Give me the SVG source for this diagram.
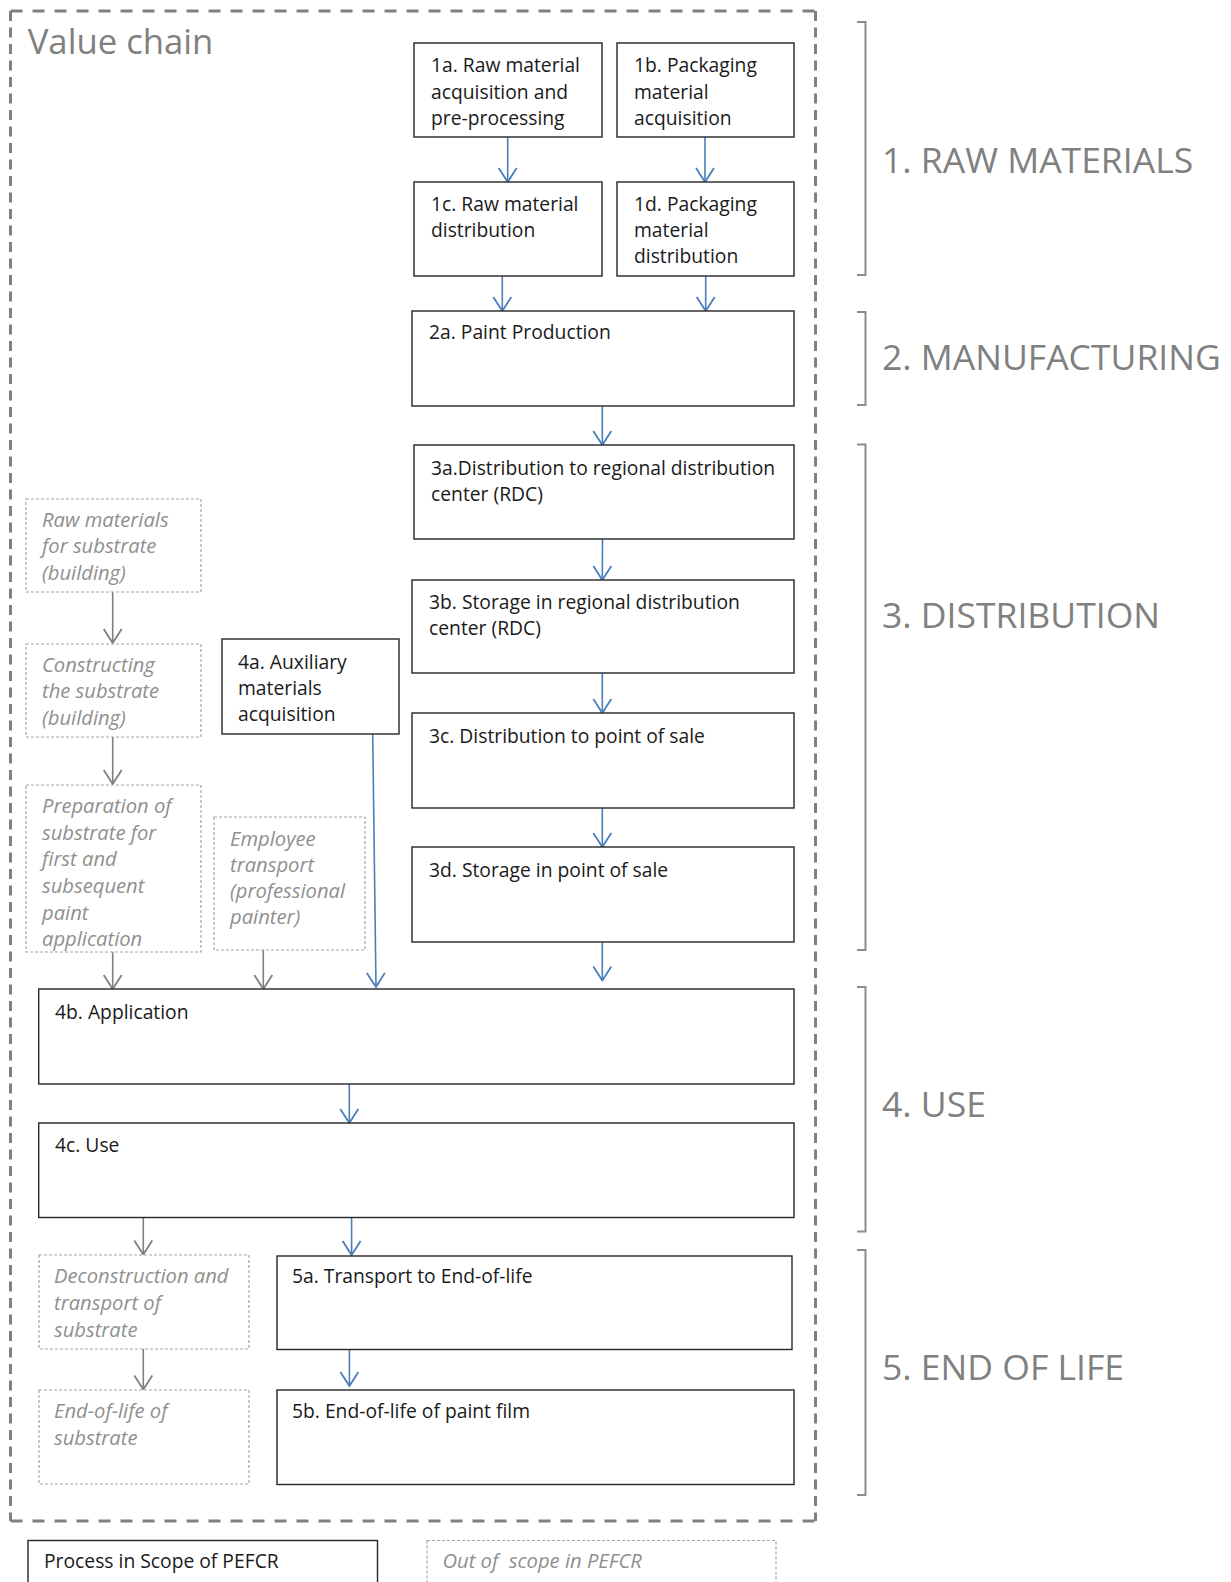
<svg xmlns="http://www.w3.org/2000/svg" width="1231" height="1582" viewBox="0 0 1231 1582">
<style>
text{font-family:"Open Sans","Noto Sans","Liberation Sans",sans-serif;}
.n{fill:#fff;stroke:#262626;stroke-width:1.4;}
.o{fill:#fff;stroke:#a6a6a6;stroke-width:1.2;stroke-dasharray:3 2;}
.t{font-size:19.3px;fill:#1a1a1a;}
.it{font-size:20.2px;fill:#8f8f8f;font-style:italic;}
.ph{font-size:35.5px;fill:#808080;}
.br{fill:none;stroke:#8c8c8c;stroke-width:2;}
.b{stroke:#4a7ebb;stroke-width:1.6;fill:none;marker-end:url(#ab);}
.g{stroke:#7f7f7f;stroke-width:1.6;fill:none;marker-end:url(#ag);}
.bd{stroke:#808080;stroke-width:3;fill:none;}
</style>
<defs>
<marker id="ab" markerUnits="userSpaceOnUse" markerWidth="22" markerHeight="22" viewBox="0 0 22 22" refX="17" refY="11" orient="auto"><path d="M3,2 L17,11 L3,20" fill="none" stroke="#4a7ebb" stroke-width="1.8" stroke-linejoin="round"/></marker>
<marker id="ag" markerUnits="userSpaceOnUse" markerWidth="22" markerHeight="22" viewBox="0 0 22 22" refX="17" refY="11" orient="auto"><path d="M3,2 L17,11 L3,20" fill="none" stroke="#7f7f7f" stroke-width="1.8" stroke-linejoin="round"/></marker>
</defs>
<rect width="1231" height="1582" fill="#fff"/>
<g id="border">
<line class="bd" x1="10.5" y1="11" x2="815.5" y2="11" stroke-dasharray="12 10"/>
<line class="bd" x1="10.5" y1="1521" x2="815.5" y2="1521" stroke-dasharray="12 10"/>
<line class="bd" x1="10.5" y1="11" x2="10.5" y2="1521" stroke-dasharray="10 6.5"/>
<line class="bd" x1="815.5" y1="11" x2="815.5" y2="1521" stroke-dasharray="10 6.5"/>
<text x="27.7" y="54.3" style="font-size:34.7px;fill:#808080;">Value chain</text>
</g>
<g id="phases">
<path class="br" d="M857,22 H865.5 V275 H857"/>
<text class="ph" x="882" y="173">1. RAW MATERIALS</text>
<path class="br" d="M857,312 H865.5 V405 H857"/>
<text class="ph" x="882" y="370">2. MANUFACTURING</text>
<path class="br" d="M857,444.5 H865.5 V950 H857"/>
<text class="ph" x="882" y="628">3. DISTRIBUTION</text>
<path class="br" d="M857,987 H865.5 V1231.5 H857"/>
<text class="ph" x="882" y="1117">4. USE</text>
<path class="br" d="M857,1250 H865.5 V1495 H857"/>
<text class="ph" x="882" y="1380">5. END OF LIFE</text>
</g>
<g id="connectors">
<line class="b" x1="507.7" y1="137" x2="507.7" y2="182"/>
<line class="b" x1="705" y1="137" x2="705" y2="182"/>
<line class="b" x1="502.3" y1="276" x2="502.3" y2="311"/>
<line class="b" x1="705.7" y1="276" x2="705.7" y2="311"/>
<line class="b" x1="602.3" y1="406" x2="602.3" y2="445"/>
<line class="b" x1="602.5" y1="539" x2="602.3" y2="580"/>
<line class="b" x1="602.3" y1="673" x2="602.3" y2="713"/>
<line class="b" x1="602.3" y1="808" x2="602.3" y2="847"/>
<line class="b" x1="602.3" y1="942" x2="602.3" y2="980.5"/>
<line class="b" x1="372.7" y1="734" x2="376" y2="987"/>
<line class="b" x1="349.3" y1="1084" x2="349.3" y2="1123"/>
<line class="b" x1="351.6" y1="1217.5" x2="351.6" y2="1255"/>
<line class="b" x1="349.4" y1="1349.5" x2="349.4" y2="1386"/>
<line class="g" x1="112.7" y1="592" x2="112.7" y2="643"/>
<line class="g" x1="112.7" y1="737" x2="112.7" y2="784"/>
<line class="g" x1="112.7" y1="952" x2="112.7" y2="989"/>
<line class="g" x1="263.3" y1="950" x2="263.3" y2="989"/>
<line class="g" x1="143.3" y1="1217.5" x2="143.3" y2="1254.5"/>
<line class="g" x1="143.3" y1="1349" x2="143.3" y2="1389.5"/>
</g>
<g id="n1a"><rect class="n" x="414" y="43" width="188" height="94"/><text class="t" x="431" y="72">1a. Raw material</text><text class="t" x="431" y="99">acquisition and</text><text class="t" x="431" y="125">pre-processing</text></g>
<g id="n1b"><rect class="n" x="617" y="43" width="177" height="94"/><text class="t" x="634" y="72">1b. Packaging</text><text class="t" x="634" y="99">material</text><text class="t" x="634" y="125">acquisition</text></g>
<g id="n1c"><rect class="n" x="414" y="182" width="188" height="94"/><text class="t" x="431" y="211">1c. Raw material</text><text class="t" x="431" y="237">distribution</text></g>
<g id="n1d"><rect class="n" x="617" y="182" width="177" height="94"/><text class="t" x="634" y="211">1d. Packaging</text><text class="t" x="634" y="237">material</text><text class="t" x="634" y="263">distribution</text></g>
<g id="n2a"><rect class="n" x="412" y="311" width="382" height="95"/><text class="t" x="429" y="339">2a. Paint Production</text></g>
<g id="n3a"><rect class="n" x="414" y="445" width="380" height="94"/><text class="t" x="431" y="475">3a.Distribution to regional distribution</text><text class="t" x="431" y="501">center (RDC)</text></g>
<g id="n3b"><rect class="n" x="412" y="580" width="382" height="93"/><text class="t" x="429" y="609">3b. Storage in regional distribution</text><text class="t" x="429" y="635">center (RDC)</text></g>
<g id="n3c"><rect class="n" x="412" y="713" width="382" height="95"/><text class="t" x="429" y="743">3c. Distribution to point of sale</text></g>
<g id="n3d"><rect class="n" x="412" y="847" width="382" height="95"/><text class="t" x="429" y="877">3d. Storage in point of sale</text></g>
<g id="n4a"><rect class="n" x="222" y="639" width="177" height="95"/><text class="t" x="238" y="669">4a. Auxiliary</text><text class="t" x="238" y="695">materials</text><text class="t" x="238" y="721">acquisition</text></g>
<g id="n4b"><rect class="n" x="38.7" y="989" width="755.3" height="95"/><text class="t" x="55" y="1019">4b. Application</text></g>
<g id="n4c"><rect class="n" x="38.7" y="1123" width="755.3" height="94.5"/><text class="t" x="55" y="1152">4c. Use</text></g>
<g id="n5a"><rect class="n" x="277" y="1256" width="515" height="93.5"/><text class="t" x="292" y="1283">5a. Transport to End-of-life</text></g>
<g id="n5b"><rect class="n" x="277" y="1390" width="517" height="94.5"/><text class="t" x="292" y="1418">5b. End-of-life of paint film</text></g>
<g id="oRaw"><rect class="o" x="26" y="499" width="175" height="93"/><text class="it" x="42" y="527">Raw materials</text><text class="it" x="42" y="553">for substrate</text><text class="it" x="42" y="580">(building)</text></g>
<g id="oCon"><rect class="o" x="26" y="644" width="175" height="93"/><text class="it" x="42" y="672">Constructing</text><text class="it" x="42" y="698">the substrate</text><text class="it" x="42" y="725">(building)</text></g>
<g id="oPrep"><rect class="o" x="26" y="785" width="175" height="167"/><text class="it" x="42" y="813">Preparation of</text><text class="it" x="42" y="840">substrate for</text><text class="it" x="42" y="866">first and</text><text class="it" x="42" y="893">subsequent</text><text class="it" x="42" y="920">paint</text><text class="it" x="42" y="946">application</text></g>
<g id="oEmp"><rect class="o" x="214" y="817" width="151" height="133"/><text class="it" x="230" y="846">Employee</text><text class="it" x="230" y="872">transport</text><text class="it" x="230" y="898">(professional</text><text class="it" x="230" y="924">painter)</text></g>
<g id="oDec"><rect class="o" x="39" y="1255" width="210" height="94"/><text class="it" x="54" y="1283">Deconstruction and</text><text class="it" x="54" y="1310">transport of</text><text class="it" x="54" y="1337">substrate</text></g>
<g id="oEol"><rect class="o" x="39" y="1390" width="210" height="94"/><text class="it" x="54" y="1418">End-of-life of</text><text class="it" x="54" y="1445">substrate</text></g>
<g id="legendIn"><rect class="n" x="28" y="1540.5" width="349.5" height="60"/><text class="t" x="44" y="1568">Process in Scope of PEFCR</text></g>
<g id="legendOut"><rect class="o" x="427" y="1540.5" width="349" height="60"/><text class="it" x="442.5" y="1568" style="white-space:pre">Out of  scope in PEFCR</text></g>
</svg>
